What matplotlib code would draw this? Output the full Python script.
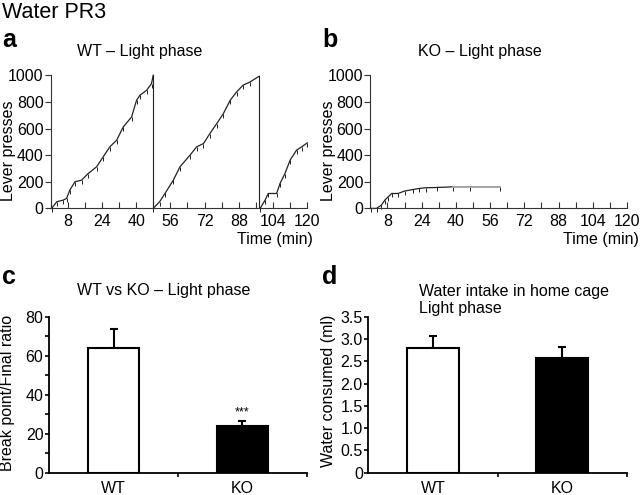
import matplotlib.pyplot as plt
import numpy as np

plt.rcParams['font.family'] = ['Liberation Sans', 'DejaVu Sans']

# panel a: WT cumulative lever presses, three ratio runs (min, presses)
wt_run1_t = [0.5, 2.9, 5.9, 7.5, 9, 11.4, 14.5, 17.6, 21.5, 24.6, 27.7, 30.9, 34, 37.9, 40.2, 41.8, 44.9, 47.2, 48]
wt_run1_y = [0, 50, 62, 75, 137, 200, 212, 262, 312, 387, 462, 512, 612, 687, 812, 850, 887, 937, 1000]
wt_run2_t = [48, 51, 53.5, 57.4, 60.5, 65.2, 68.3, 71.5, 74.5, 77.7, 80.8, 84, 87, 90, 93.3, 97.5]
wt_run2_y = [0, 50, 112, 212, 312, 400, 462, 487, 562, 637, 712, 812, 875, 925, 950, 992]
wt_run3_t = [98, 100.3, 101.8, 105.7, 107.3, 109.6, 112, 115, 117.4, 120]
wt_run3_y = [0, 62, 112, 112, 187, 262, 362, 437, 462, 492]

# panel b: KO cumulative lever presses
ko_t = [0.5, 2.9, 5.2, 6.8, 8.4, 10, 13, 16, 20, 23, 26, 31, 38.7, 46.5, 60.5]
ko_y = [0, 0, 25, 62, 87, 112, 112, 130, 142, 150, 155, 157, 162, 162, 162]

# panel c: break point / final ratio
groups = ['WT', 'KO']
bp_mean = [64, 23.8]
bp_sem = [9.6, 2.7]

# panel d: water consumed in home cage (ml)
water_mean = [2.80, 2.58]
water_sem = [0.27, 0.24]

fig = plt.figure(figsize=(6.4, 4.95), dpi=100)

FS = 11.5


def style_time_axis(ax):
    for s in ['top', 'right']:
        ax.spines[s].set_visible(False)
    for s in ['left', 'bottom']:
        ax.spines[s].set_linewidth(0.8)
        ax.spines[s].set_color('#333333')
    ax.set_xlim(0, 120)
    ax.set_ylim(0, 1000)
    ax.set_xticks(np.arange(8, 121, 16))
    ax.set_xticks(np.arange(0, 121, 8), minor=True)
    ax.set_yticks(np.arange(0, 1001, 200))
    ax.tick_params(axis='x', which='both', direction='in', length=4, width=0.8,
                   labelsize=FS, pad=4, color='#333333')
    ax.tick_params(axis='y', direction='out', length=4, width=0.8, labelsize=FS,
                   pad=1, color='#333333')


line_kw = dict(color='#222222', lw=0.9, marker=3, ms=3, mew=0.7, clip_on=False)

# ---- a ----
ax_a = fig.add_axes([0.079, 0.579, 0.401, 0.269])
style_time_axis(ax_a)
ax_a.plot(wt_run1_t, wt_run1_y, **line_kw)
ax_a.plot([wt_run1_t[-1], wt_run1_t[-1]], [wt_run1_y[-1], 0], color='#222222', lw=0.8)
ax_a.plot(wt_run2_t, wt_run2_y, **line_kw)
ax_a.plot([wt_run2_t[-1], wt_run2_t[-1]], [wt_run2_y[-1], 0], color='#222222', lw=0.8)
ax_a.plot(wt_run3_t, wt_run3_y, **line_kw)

# ---- b ----
ax_b = fig.add_axes([0.5786, 0.579, 0.401, 0.269])
style_time_axis(ax_b)
ko_t_arr = np.array(ko_t)
ko_y_arr = np.array(ko_y)
ax_b.plot(ko_t_arr, ko_y_arr, **line_kw)
late = ko_t_arr >= 38.7
ax_b.plot(ko_t_arr[late], ko_y_arr[late], color='#b0b0b0', lw=1.2)

fig.text(0.014, 0.695, 'Lever presses', rotation=90, ha='center', va='center', fontsize=FS)
fig.text(0.514, 0.695, 'Lever presses', rotation=90, ha='center', va='center', fontsize=FS)
fig.text(0.219, 0.8956, 'WT – Light phase', ha='center', va='center', fontsize=FS)
fig.text(0.75, 0.8956, 'KO – Light phase', ha='center', va='center', fontsize=FS)
fig.text(0.489, 0.517, 'Time (min)', ha='right', va='center', fontsize=FS)
fig.text(0.998, 0.517, 'Time (min)', ha='right', va='center', fontsize=FS)


def style_bar_axis(ax):
    for s in ['top', 'right']:
        ax.spines[s].set_visible(False)
    for s in ['left', 'bottom']:
        ax.spines[s].set_linewidth(1.3)
    ax.set_xlim(0, 4)
    ax.set_xticks([1, 3])
    ax.set_xticklabels(groups)
    ax.set_xticks([2, 4], minor=True)
    ax.tick_params(axis='x', which='major', length=0, labelsize=FS, pad=6)
    ax.tick_params(axis='x', which='minor', direction='out', length=3, width=1.2)
    ax.tick_params(axis='y', which='both', direction='out', length=3, width=1.2,
                   labelsize=FS, pad=1)


bar_x = [1, 3]
bar_colors = ['white', 'black']

# ---- c ----
ax_c = fig.add_axes([0.0766, 0.045, 0.403, 0.315])
style_bar_axis(ax_c)
ax_c.set_ylim(0, 80)
ax_c.set_yticks(np.arange(0, 81, 20))
ax_c.set_yticks(np.arange(10, 80, 20), minor=True)
ax_c.errorbar(bar_x, bp_mean, yerr=[[0, 0], bp_sem], fmt='none', ecolor='black',
              elinewidth=1.5, capsize=3, capthick=1.5, zorder=1)
ax_c.bar(bar_x, bp_mean, width=0.8, color=bar_colors, edgecolor='black', linewidth=1.5, zorder=2)
ax_c.text(bar_x[1], bp_mean[1] + bp_sem[1] + 4.5, '***', ha='center', va='center', fontsize=9)

# ---- d ----
ax_d = fig.add_axes([0.5755, 0.045, 0.404, 0.315])
style_bar_axis(ax_d)
ax_d.set_ylim(0, 3.5)
ax_d.set_yticks(np.arange(0, 3.51, 0.5))
ax_d.set_yticklabels(['0'] + ['%.1f' % v for v in np.arange(0.5, 3.51, 0.5)])
ax_d.errorbar(bar_x, water_mean, yerr=[[0, 0], water_sem], fmt='none', ecolor='black',
              elinewidth=1.5, capsize=3, capthick=1.5, zorder=1)
ax_d.bar(bar_x, water_mean, width=0.8, color=bar_colors, edgecolor='black', linewidth=1.5, zorder=2)

fig.text(0.0125, 0.206, 'Break point/Final ratio', rotation=90, ha='center', va='center', fontsize=FS)
fig.text(0.5125, 0.21, 'Water consumed (ml)', rotation=90, ha='center', va='center', fontsize=FS)
fig.text(0.255, 0.4127, 'WT vs KO – Light phase', ha='center', va='center', fontsize=FS)
fig.text(0.655, 0.394, 'Water intake in home cage\nLight phase', ha='left', va='center',
         fontsize=FS, linespacing=1.2)

# headings and panel letters
fig.text(0.003, 0.975, 'Water PR3', ha='left', va='center', fontsize=15.5)
fig.text(0.003, 0.92, 'a', ha='left', va='center', fontsize=18, fontweight='bold')
fig.text(0.503, 0.92, 'b', ha='left', va='center', fontsize=18, fontweight='bold')
fig.text(0.003, 0.44, 'c', ha='left', va='center', fontsize=18, fontweight='bold')
fig.text(0.503, 0.44, 'd', ha='left', va='center', fontsize=18, fontweight='bold')

fig.savefig('out.png', dpi=100)
